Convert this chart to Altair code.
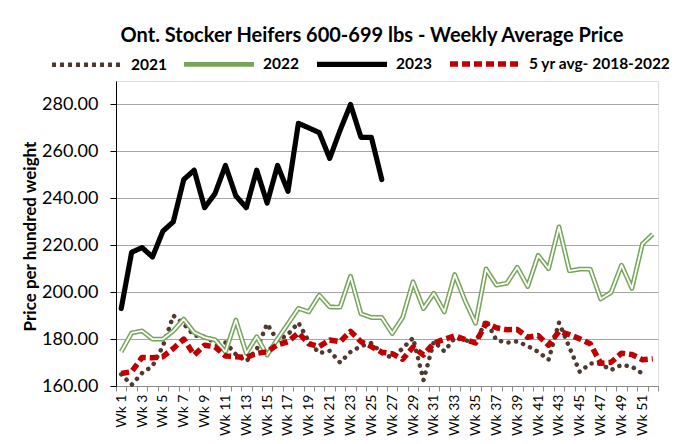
import altair as alt
import pandas as pd

weeks = [f"Wk {i}" for i in range(1, 53)]

y2021 = [165, 160.5, 165.5, 168.5, 177, 190, 186.5, 181.5, 181, 178.5,
         178.5, 173.5, 170.5, 175.6, 186.5, 179.3, 182, 187, 179, 174,
         175, 170, 174.5, 177, 178.3, 174, 172, 176, 180.5, 162.5,
         179, 174.8, 180.5, 179.5, 178.5, 188, 179.5, 178.5, 179, 177,
         174.6, 171.2, 187, 176.5, 166, 169.6, 169.4, 166.8, 169, 168.2,
         165.3]

y2022 = [174.6, 182.6, 183.5, 180.0, 180.0, 183.5, 188.5, 182.8, 180.7, 179.7,
         174.5, 188.1, 173.9, 181.0, 173.2, 180.0, 186.5, 193.1, 191.6, 198.7,
         193.7, 193.6, 206.8, 190.8, 189.2, 189.2, 182.4, 189.2, 204.4, 193.0,
         199.5, 191.6, 207.5, 196.2, 186.7, 209.9, 203.0, 203.8, 210.6, 202.4,
         215.7, 210.0, 227.8, 209.1, 209.8, 209.8, 197.1, 199.9, 211.5, 201.6,
         220.5, 224.7]

y2023 = [193, 217, 219, 215, 226, 230, 248, 252, 236, 242,
         254, 241, 236, 252, 238, 254, 243, 272, 270, 268,
         257, 269, 280, 266, 266, 248]

avg5 = [165.3, 166.1, 172.2, 172.0, 172.5, 176.0, 180.0, 173.2, 177.4, 176.7,
        172.8, 172.5, 172.2, 173.9, 174.6, 177.6, 178.9, 182.6, 178.0, 176.8,
        179.6, 178.9, 183.3, 178.9, 176.8, 174.4, 173.8, 171.4, 176.6, 173.2,
        178.3, 179.9, 181.4, 179.8, 178.4, 186.7, 184.8, 184.0, 184.1, 180.8,
        181.5, 177.4, 183.3, 181.9, 180.1, 178.0, 169.7, 170.1, 174.0, 173.4,
        171.2, 171.6]

series_names = ["2021", "2022", "2023", "5 yr avg- 2018-2022"]
series_values = [y2021, y2022, y2023, avg5]
colors = ["#4e3a2e", "#77a55a", "#000000", "#c00000"]
legend_dashes = [[4, 4], [1, 0], [1, 0], [8, 4]]
widths = [4.5, 5.5, 5.5, 3.5]

rows = []
for name, vals in zip(series_names, series_values):
    for i, v in enumerate(vals):
        rows.append({"week": weeks[i], "price": v, "series": name})
df = pd.DataFrame(rows)

FONT = "Lato"

x_enc = alt.X(
    "week:O",
    sort=weeks,
    scale=alt.Scale(type="band", domain=weeks, paddingInner=0, paddingOuter=0),
    axis=alt.Axis(
        title=None, tickBand="extent", labelAngle=270,
        labelExpr="parseInt(substring(datum.label, 3)) % 2 == 1 ? datum.label : ''",
        labelFont=FONT, labelFontSize=14, labelColor="black", labelPadding=3,
        labelOverlap=False, tickColor="#8c8c8c", tickSize=5,
        domainColor="#8c8c8c", grid=False,
    ),
)
y_enc = alt.Y(
    "price:Q",
    scale=alt.Scale(domain=[160, 290], nice=False, zero=False),
    axis=alt.Axis(
        values=[160, 180, 200, 220, 240, 260, 280], format=".2f",
        title="Price per hundred weight", titleFont=FONT, titleFontSize=17,
        titleFontWeight="bold", titleColor="black", titleAngle=270,
        titleX=-86, titleY=155, titleAlign="center", titleBaseline="middle",
        labelFont=FONT, labelFontSize=18, labelColor="black", labelPadding=12,
        tickColor="black", tickSize=6, domainColor="black",
        gridColor="#a6a6a6", gridWidth=1,
    ),
)

leg = alt.Legend(
    title=None, orient="none", legendX=-67, legendY=-55, direction="horizontal",
    columns=4, symbolType="stroke", symbolSize=4900, labelFont=FONT,
    labelFontWeight="bold", labelFontSize=15.5, labelColor="black", labelOffset=6,
    columnPadding=7, padding=0,
)

color_enc = alt.Color("series:N", scale=alt.Scale(domain=series_names, range=colors), legend=leg)
dash_enc = alt.StrokeDash("series:N", scale=alt.Scale(domain=series_names, range=legend_dashes), legend=leg)
width_enc = alt.StrokeWidth("series:N", scale=alt.Scale(domain=series_names, range=widths), legend=leg)

base = alt.Chart(df)

# 2021: round dotted line (dash set on the mark so the dots are round)
l2021 = base.transform_filter(alt.datum.series == "2021").mark_line(
    strokeCap="round", strokeJoin="round", strokeDash=[0.1, 7.5]
).encode(x=x_enc, y=y_enc, color=color_enc, strokeWidth=width_enc)

l2022 = base.transform_filter(alt.datum.series == "2022").mark_line(
    strokeJoin="round"
).encode(x=x_enc, y=y_enc, color=color_enc, strokeDash=dash_enc, strokeWidth=width_enc)

white = base.transform_filter(alt.datum.series == "2022").mark_line(
    color="white", strokeWidth=1.8, strokeJoin="round"
).encode(x=x_enc, y=y_enc)

l2023 = base.transform_filter(alt.datum.series == "2023").mark_line(
    strokeCap="round", strokeJoin="round"
).encode(x=x_enc, y=y_enc, color=color_enc, strokeDash=dash_enc, strokeWidth=width_enc)

lavg = base.transform_filter(alt.datum.series == "5 yr avg- 2018-2022").mark_line(
    strokeJoin="round"
).encode(x=x_enc, y=y_enc, color=color_enc, strokeDash=dash_enc, strokeWidth=width_enc)

chart = alt.layer(
    l2021, l2022, white, l2023, lavg,
).properties(
    width=542, height=305,
    padding={"left": 108, "top": 73, "right": 20, "bottom": 50},
    autosize="none",
    title=alt.TitleParams(
        "Ont. Stocker Heifers 600-699 lbs - Weekly Average Price",
        font=FONT, fontSize=20, fontWeight="bold", color="black",
        anchor="middle", dx=-15, offset=0, dy=20,
    ),
).configure_view(stroke=None).configure(background="white")

chart.save("out.html", embed_options={"renderer": "svg", "actions": False})
